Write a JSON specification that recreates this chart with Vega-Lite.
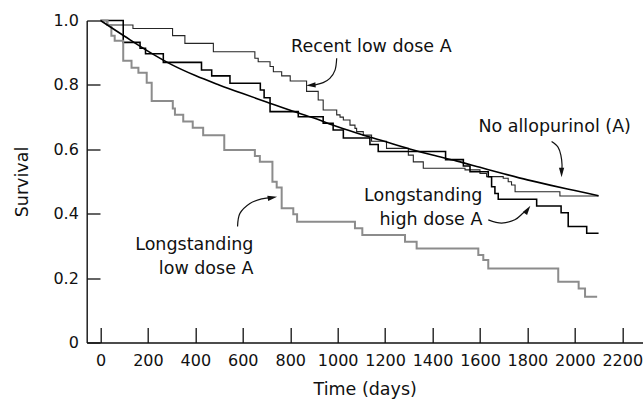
{
  "$schema": "https://vega.github.io/schema/vega-lite/v6.json",
  "width": 556,
  "height": 322,
  "autosize": {"type": "none"},
  "padding": {"left": 86.7, "top": 20.5, "right": 0, "bottom": 60.5},
  "background": "white",
  "config": {
    "view": {"stroke": null},
    "font": "DejaVu Sans",
    "axis": {
      "domainColor": "#111111",
      "domainWidth": 1.4,
      "tickColor": "#111111",
      "tickWidth": 1.3,
      "labelColor": "#111111",
      "titleColor": "#111111",
      "labelFont": "DejaVu Sans",
      "titleFont": "DejaVu Sans",
      "labelFontSize": 16,
      "titleFontSize": 17.5,
      "titleFontWeight": "normal",
      "grid": false
    }
  },
  "datasets": {
    "steps": [
      {"g": "recent", "t": 0, "s": 1.0},
      {"g": "recent", "t": 28, "s": 0.986},
      {"g": "recent", "t": 137, "s": 0.975},
      {"g": "recent", "t": 304, "s": 0.953},
      {"g": "recent", "t": 356, "s": 0.929},
      {"g": "recent", "t": 476, "s": 0.903},
      {"g": "recent", "t": 651, "s": 0.883},
      {"g": "recent", "t": 665, "s": 0.872},
      {"g": "recent", "t": 715, "s": 0.857},
      {"g": "recent", "t": 729, "s": 0.841},
      {"g": "recent", "t": 764, "s": 0.828},
      {"g": "recent", "t": 800, "s": 0.812},
      {"g": "recent", "t": 869, "s": 0.780},
      {"g": "recent", "t": 918, "s": 0.753},
      {"g": "recent", "t": 939, "s": 0.722},
      {"g": "recent", "t": 996, "s": 0.707},
      {"g": "recent", "t": 1010, "s": 0.700},
      {"g": "recent", "t": 1024, "s": 0.691},
      {"g": "recent", "t": 1052, "s": 0.675},
      {"g": "recent", "t": 1073, "s": 0.665},
      {"g": "recent", "t": 1080, "s": 0.655},
      {"g": "recent", "t": 1108, "s": 0.644},
      {"g": "recent", "t": 1143, "s": 0.625},
      {"g": "recent", "t": 1206, "s": 0.603},
      {"g": "recent", "t": 1298, "s": 0.582},
      {"g": "recent", "t": 1319, "s": 0.561},
      {"g": "recent", "t": 1361, "s": 0.541},
      {"g": "recent", "t": 1537, "s": 0.536},
      {"g": "recent", "t": 1600, "s": 0.525},
      {"g": "recent", "t": 1628, "s": 0.515},
      {"g": "recent", "t": 1698, "s": 0.510},
      {"g": "recent", "t": 1719, "s": 0.499},
      {"g": "recent", "t": 1733, "s": 0.489},
      {"g": "recent", "t": 1748, "s": 0.468},
      {"g": "recent", "t": 1937, "s": 0.455},
      {"g": "recent", "t": 2100, "s": 0.455},
      {"g": "high", "t": 0, "s": 1.0},
      {"g": "high", "t": 96, "s": 0.932},
      {"g": "high", "t": 167, "s": 0.914},
      {"g": "high", "t": 190, "s": 0.897},
      {"g": "high", "t": 265, "s": 0.870},
      {"g": "high", "t": 426, "s": 0.846},
      {"g": "high", "t": 469, "s": 0.828},
      {"g": "high", "t": 546, "s": 0.805},
      {"g": "high", "t": 674, "s": 0.784},
      {"g": "high", "t": 690, "s": 0.760},
      {"g": "high", "t": 715, "s": 0.717},
      {"g": "high", "t": 834, "s": 0.701},
      {"g": "high", "t": 939, "s": 0.681},
      {"g": "high", "t": 981, "s": 0.660},
      {"g": "high", "t": 1024, "s": 0.635},
      {"g": "high", "t": 1136, "s": 0.615},
      {"g": "high", "t": 1171, "s": 0.593},
      {"g": "high", "t": 1455, "s": 0.568},
      {"g": "high", "t": 1530, "s": 0.548},
      {"g": "high", "t": 1558, "s": 0.530},
      {"g": "high", "t": 1635, "s": 0.515},
      {"g": "high", "t": 1649, "s": 0.484},
      {"g": "high", "t": 1663, "s": 0.463},
      {"g": "high", "t": 1677, "s": 0.445},
      {"g": "high", "t": 1839, "s": 0.424},
      {"g": "high", "t": 1942, "s": 0.403},
      {"g": "high", "t": 1972, "s": 0.360},
      {"g": "high", "t": 2050, "s": 0.339},
      {"g": "high", "t": 2100, "s": 0.339},
      {"g": "low", "t": 0, "s": 1.0},
      {"g": "low", "t": 30, "s": 0.986},
      {"g": "low", "t": 46, "s": 0.953},
      {"g": "low", "t": 60, "s": 0.937},
      {"g": "low", "t": 96, "s": 0.875},
      {"g": "low", "t": 131, "s": 0.853},
      {"g": "low", "t": 160, "s": 0.838},
      {"g": "low", "t": 195, "s": 0.807},
      {"g": "low", "t": 216, "s": 0.750},
      {"g": "low", "t": 305, "s": 0.727},
      {"g": "low", "t": 314, "s": 0.707},
      {"g": "low", "t": 349, "s": 0.686},
      {"g": "low", "t": 389, "s": 0.667},
      {"g": "low", "t": 433, "s": 0.644},
      {"g": "low", "t": 522, "s": 0.598},
      {"g": "low", "t": 651, "s": 0.579},
      {"g": "low", "t": 672, "s": 0.561},
      {"g": "low", "t": 725, "s": 0.499},
      {"g": "low", "t": 743, "s": 0.481},
      {"g": "low", "t": 764, "s": 0.417},
      {"g": "low", "t": 813, "s": 0.398},
      {"g": "low", "t": 829, "s": 0.375},
      {"g": "low", "t": 1073, "s": 0.355},
      {"g": "low", "t": 1104, "s": 0.334},
      {"g": "low", "t": 1284, "s": 0.313},
      {"g": "low", "t": 1333, "s": 0.292},
      {"g": "low", "t": 1593, "s": 0.272},
      {"g": "low", "t": 1614, "s": 0.256},
      {"g": "low", "t": 1635, "s": 0.230},
      {"g": "low", "t": 1930, "s": 0.189},
      {"g": "low", "t": 2016, "s": 0.168},
      {"g": "low", "t": 2043, "s": 0.142},
      {"g": "low", "t": 2094, "s": 0.142}
    ],
    "smooth": [
      {"t": 0, "s": 1.0},
      {"t": 100, "s": 0.952},
      {"t": 200, "s": 0.905},
      {"t": 300, "s": 0.863},
      {"t": 400, "s": 0.829},
      {"t": 500, "s": 0.800},
      {"t": 600, "s": 0.773},
      {"t": 700, "s": 0.747},
      {"t": 800, "s": 0.721},
      {"t": 900, "s": 0.697},
      {"t": 1000, "s": 0.670},
      {"t": 1100, "s": 0.646},
      {"t": 1200, "s": 0.624},
      {"t": 1300, "s": 0.602},
      {"t": 1400, "s": 0.582},
      {"t": 1500, "s": 0.564},
      {"t": 1600, "s": 0.544},
      {"t": 1700, "s": 0.524},
      {"t": 1800, "s": 0.505},
      {"t": 1900, "s": 0.488},
      {"t": 2000, "s": 0.472},
      {"t": 2100, "s": 0.456}
    ],
    "arrows": [
      {"id": "recent", "o": 1, "t": 996, "s": 0.883},
      {"id": "recent", "o": 2, "t": 989, "s": 0.846},
      {"id": "recent", "o": 3, "t": 967, "s": 0.820},
      {"id": "recent", "o": 4, "t": 939, "s": 0.807},
      {"id": "recent", "o": 5, "t": 904, "s": 0.800},
      {"id": "recent", "o": 6, "t": 887, "s": 0.799},
      {"id": "none", "o": 1, "t": 1902, "s": 0.624},
      {"id": "none", "o": 2, "t": 1929, "s": 0.607},
      {"id": "none", "o": 3, "t": 1941, "s": 0.582},
      {"id": "none", "o": 4, "t": 1946, "s": 0.551},
      {"id": "none", "o": 5, "t": 1944, "s": 0.528},
      {"id": "high", "o": 1, "t": 1635, "s": 0.381},
      {"id": "high", "o": 2, "t": 1691, "s": 0.371},
      {"id": "high", "o": 3, "t": 1747, "s": 0.381},
      {"id": "high", "o": 4, "t": 1782, "s": 0.402},
      {"id": "high", "o": 5, "t": 1801, "s": 0.413},
      {"id": "low", "o": 1, "t": 578, "s": 0.360},
      {"id": "low", "o": 2, "t": 588, "s": 0.401},
      {"id": "low", "o": 3, "t": 630, "s": 0.432},
      {"id": "low", "o": 4, "t": 680, "s": 0.446},
      {"id": "low", "o": 5, "t": 725, "s": 0.450}
    ],
    "heads": [
      {"t": 887, "s": 0.799, "a": 266},
      {"t": 1944, "s": 0.528, "a": 180},
      {"t": 1801, "s": 0.413, "a": 35},
      {"t": 725, "s": 0.450, "a": 80}
    ],
    "labelsC": [
      {"t": 1142, "s": 0.901, "txt": "Recent low dose A"},
      {"t": 1915, "s": 0.655, "txt": "No allopurinol (A)"}
    ],
    "labelsR": [
      {"t": 1610, "s": 0.439, "txt": "Longstanding\nhigh dose A"},
      {"t": 645, "s": 0.287, "txt": "Longstanding\nlow dose A"}
    ]
  },
  "layer": [
    {
      "data": {"name": "steps"},
      "mark": {"type": "line", "interpolate": "step-after"},
      "encoding": {
        "x": {
          "field": "t",
          "type": "quantitative",
          "scale": {"domain": [-58, 2286], "nice": false, "zero": false},
          "axis": {
            "title": "Time (days)",
            "values": [0, 200, 400, 600, 800, 1000, 1200, 1400, 1600, 1800, 2000, 2200],
            "format": "d",
            "tickSize": -15,
            "labelPadding": 25,
            "titlePadding": 12,
            "labelFlush": false,
            "labelOverlap": false
          }
        },
        "y": {
          "field": "s",
          "type": "quantitative",
          "scale": {"domain": [0, 1], "nice": false, "zero": true},
          "axis": {
            "title": "Survival",
            "values": [0, 0.1, 0.2, 0.3, 0.4, 0.5, 0.6, 0.7, 0.8, 0.9, 1.0],
            "tickSize": {"condition": {"test": "round(datum.value*10) % 2 === 0", "value": -13.3}, "value": -7.5},
            "labelPadding": 21.7,
            "labelExpr": "round(datum.value*10) % 2 === 0 ? (datum.value === 0 ? '0' : format(datum.value, '.1f')) : ''",
            "labelOverlap": false,
            "titlePadding": 21
          }
        },
        "color": {
          "field": "g",
          "type": "nominal",
          "scale": {"domain": ["recent", "high", "low"], "range": ["#262626", "#000000", "#8c8c8c"]},
          "legend": null
        },
        "strokeWidth": {
          "field": "g",
          "type": "nominal",
          "scale": {"domain": ["recent", "high", "low"], "range": [1.1, 2, 1.2]},
          "legend": null
        }
      }
    },
    {
      "data": {"name": "smooth"},
      "mark": {"type": "line", "interpolate": "monotone", "color": "#000000", "strokeWidth": 1.6},
      "encoding": {
        "x": {"field": "t", "type": "quantitative"},
        "y": {"field": "s", "type": "quantitative"}
      }
    },
    {
      "data": {"name": "arrows"},
      "mark": {"type": "line", "interpolate": "cardinal", "color": "#111111", "strokeWidth": 1.2},
      "encoding": {
        "x": {"field": "t", "type": "quantitative"},
        "y": {"field": "s", "type": "quantitative"},
        "detail": {"field": "id", "type": "nominal"},
        "order": {"field": "o", "type": "quantitative"}
      }
    },
    {
      "data": {"name": "heads"},
      "mark": {"type": "point", "shape": "M0,-1L0.55,1L-0.55,1Z", "filled": true, "color": "#111111", "size": 90, "opacity": 1},
      "encoding": {
        "x": {"field": "t", "type": "quantitative"},
        "y": {"field": "s", "type": "quantitative"},
        "angle": {"field": "a", "type": "quantitative", "scale": null}
      }
    },
    {
      "data": {"name": "labelsC"},
      "mark": {"type": "text", "align": "center", "baseline": "alphabetic", "fontSize": 17.5, "color": "#111111", "font": "DejaVu Sans"},
      "encoding": {
        "x": {"field": "t", "type": "quantitative"},
        "y": {"field": "s", "type": "quantitative"},
        "text": {"field": "txt", "type": "nominal"}
      }
    },
    {
      "data": {"name": "labelsR"},
      "mark": {"type": "text", "align": "right", "baseline": "alphabetic", "fontSize": 17.5, "lineHeight": 24, "lineBreak": "\n", "color": "#111111", "font": "DejaVu Sans"},
      "encoding": {
        "x": {"field": "t", "type": "quantitative"},
        "y": {"field": "s", "type": "quantitative"},
        "text": {"field": "txt", "type": "nominal"}
      }
    }
  ]
}
